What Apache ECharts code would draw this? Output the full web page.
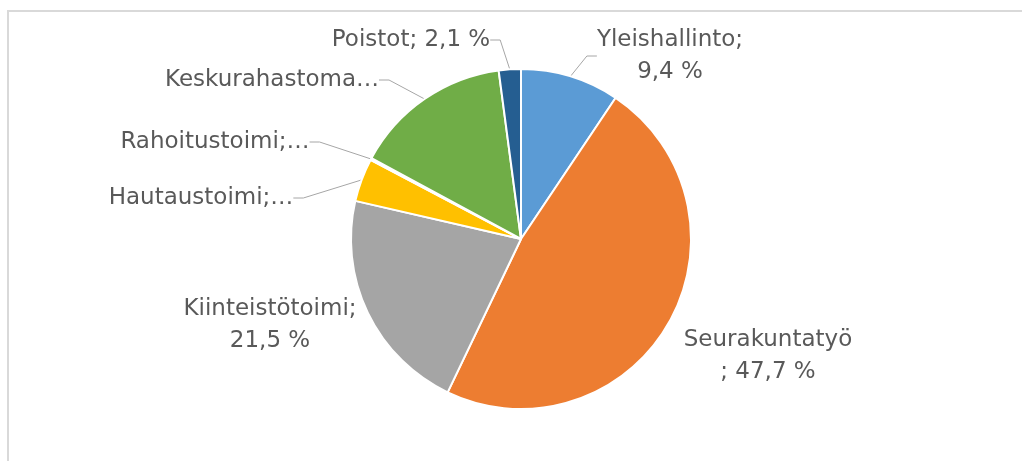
<!DOCTYPE html>
<html>
<head>
<meta charset="utf-8">
<script src="https://cdn.jsdelivr.net/npm/echarts@6/dist/echarts.min.js"></script>
<style>
  html, body { margin: 0; padding: 0; background: #fff; }
  #main { width: 1022px; height: 461px; }
</style>
</head>
<body>
<div id="main"></div>
<script>
var categories = ['Yleishallinto', 'Seurakuntatyö', 'Kiinteistötoimi', 'Hautaustoimi', 'Rahoitustoimi', 'Keskurahastomaksu', 'Poistot'];
var values = [9.4, 47.7, 21.5, 4.1, 0.2, 15.0, 2.1];
var labelTexts = ['Yleishallinto;\n9,4 %', 'Seurakuntatyö\n; 47,7 %', 'Kiinteistötoimi;\n21,5 %', 'Hautaustoimi;…', 'Rahoitustoimi;…', 'Keskurahastoma…', 'Poistot; 2,1 %'];
var colors = ['#5B9BD5', '#ED7D31', '#A5A5A5', '#FFC000', '#4472C4', '#70AD47', '#255E91'];

// where Excel put each label (centre of text), and whether it has a leader line
var labelPos = [[670, 56], [768, 356], [270, 325], [201, 198], [215, 142], [272, 80], [411, 40]];
var showLine = [true, false, false, true, true, true, true];

var myChart = echarts.init(document.getElementById('main'));

var seriesData = categories.map(function (name, i) {
    return {
        name: name,
        value: values[i],
        itemStyle: { color: colors[i] },
        labelLine: { show: showLine[i] }
    };
});

var option = {
    animation: false,
    graphic: [{
        type: 'rect',
        shape: { x: 8, y: 11, width: 1040, height: 500 },
        style: { fill: 'none', stroke: '#d9d9d9', lineWidth: 2 },
        silent: true
    }],
    series: [{
        type: 'pie',
        center: [521, 239],
        radius: 170,
        startAngle: 90,
        clockwise: true,
        avoidLabelOverlap: false,
        itemStyle: { borderColor: '#fff', borderWidth: 2 },
        label: {
            show: true,
            position: 'outside',
            formatter: function (p) { return labelTexts[p.dataIndex]; },
            color: '#595959',
            fontFamily: 'DejaVu Sans',
            fontSize: 23,
            lineHeight: 32,
            align: 'center'
        },
        labelLine: {
            show: true,
            length: 10,
            length2: 10,
            lineStyle: { color: '#a6a6a6', width: 1 }
        },
        labelLayout: function (params) {
            var p = labelPos[params.dataIndex];
            return { x: p[0], y: p[1], align: 'center', verticalAlign: 'middle' };
        },
        data: seriesData
    }]
};
myChart.setOption(option);
</script>
</body>
</html>
